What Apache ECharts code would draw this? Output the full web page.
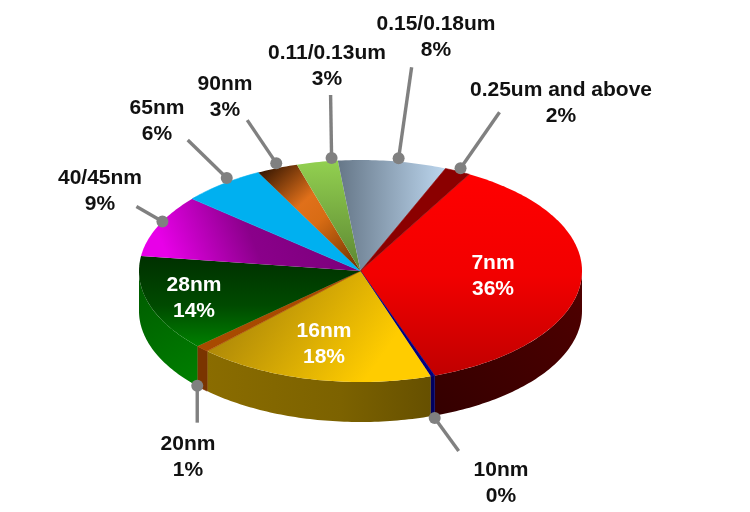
<!DOCTYPE html>
<html>
<head>
<meta charset="utf-8">
<style>html,body{margin:0;padding:0;background:#fff}#c{width:750px;height:512px}</style>
<script src="https://cdn.jsdelivr.net/npm/echarts@6/dist/echarts.min.js"></script>
</head>
<body>
<div id="c"></div>
<script>
// ---- data ----
const categories = ['7nm','10nm','16nm','20nm','28nm','40/45nm','65nm','90nm','0.11/0.13um','0.15/0.18um','0.25um and above'];
const shares     = [36.4, 0.3, 17.3, 1.0, 14.0, 9.1, 6.1, 3.0, 3.0, 7.9, 1.9];
const percentLabels = ['36%','0%','18%','1%','14%','9%','6%','3%','3%','8%','2%'];

// ---- styles ----
function lin(x,y,x2,y2,stops){
  return {type:'linear',x:x,y:y,x2:x2,y2:y2,colorStops:stops.map((c,i)=>({offset:c[0],color:c[1]}))};
}
const topFills = [
  lin(0,0,0,1,[[0,'#ff0000'],[0.5,'#f20000'],[1,'#c00000']]),
  '#000080',
  lin(0,0,0.7,1,[[0,'#a68006'],[0.25,'#b08a08'],[1,'#ffcc00']]),
  '#a84a00',
  lin(0,0,0,1,[[0,'#003000'],[0.55,'#004a00'],[1,'#008000']]),
  lin(0.9,0,0.1,1,[[0,'#7a007a'],[0.5,'#8a008a'],[0.95,'#e800e8'],[1,'#e800e8']]),
  '#00b0f0',
  lin(0.05,0,1,1,[[0,'#2e1200'],[0.38,'#e0701a'],[0.55,'#d86c14'],[1,'#6a3000']]),
  lin(0,0,0,1,[[0,'#92d050'],[1,'#5c8632']]),
  lin(0,0,1,0,[[0,'#667788'],[1,'#bcd6ee']]),
  '#8b0000'
];
const wallFills = [
  lin(1,0,0,1,[[0,'#500000'],[1,'#340000']]),
  '#000060',
  lin(0,0,1,0,[[0,'#8a6c00'],[0.6,'#7c6200'],[1,'#665000']]),
  '#7a3400',
  lin(0,0,1,1,[[0,'#005800'],[1,'#008000']]),
  '#444','#444','#444','#444','#444','#444'
];
const labelColors = ['#fff','#111','#fff','#111','#fff','#111','#111','#111','#111','#111','#111'];
const leaderColor = '#808080';

// ---- layout of the tilted pie ----
const pie = {cx:360.5, cy:271, rx:221.5, ry:111, depth:40, startDeg:29.4};
const labelFont = 'bold 21px "Liberation Sans", Arial, sans-serif';
const labelLine = 26.5;
const labelCentres = [[493,276],[501,483],[324,344],[188,457],[194,298],[100,191],[157,121],[225,97],[327,66],[436,37],[561,103]];
// [position within slice, on lower rim?, nudge x, y, leader vector x, y]
const leaders = [
  null,
  [0.5,1,2,2,24,33],
  null,
  [0.5,1,-5,-3,0,37],
  null,
  [0.5,0,4,-4,-26,-15],
  [0.5,0,4,-6,-39,-38],
  [0.5,0,-1,-5,-29,-43],
  [0.85,0,0,-3,-1,-63],
  [0.5,0,6,-3,13,-91],
  [0.5,0,3,-3,39,-56]
];

const total = shares.reduce((a,b)=>a+b,0);
const bounds = [0];
shares.forEach(v=>bounds.push(bounds[bounds.length-1]+v));
const toDeg = v => echarts.number.linearMap(v,[0,total],[pie.startDeg,pie.startDeg+360]);
function rim(deg,drop){
  const t=deg*Math.PI/180;
  return [pie.cx+pie.rx*Math.sin(t), pie.cy-pie.ry*Math.cos(t)+(drop||0)];
}
function arcPoints(a,b,drop){
  const n=Math.max(2,Math.ceil(Math.abs(b-a)));
  const out=[];
  for(let k=0;k<=n;k++) out.push(rim(a+(b-a)*k/n,drop));
  return out;
}
const rows = shares.map((v,i)=>({value:[v],name:categories[i]}));

function renderTop(params){
  const i=params.dataIndex;
  const a=toDeg(bounds[i]), b=toDeg(bounds[i+1]);
  return {type:'polygon',shape:{points:[[pie.cx,pie.cy]].concat(arcPoints(a,b,0))},
          style:{fill:topFills[i],stroke:typeof topFills[i]==='string'?topFills[i]:null,lineWidth:typeof topFills[i]==='string'?0.6:0}};
}
function renderWall(params){
  const i=params.dataIndex;
  let a=toDeg(bounds[i]), b=toDeg(bounds[i+1]);
  if(b<=90||a>=270) return null;
  a=Math.max(a,90); b=Math.min(b,270);
  const pts=arcPoints(a,b,0).concat(arcPoints(b,a,pie.depth));
  return {type:'polygon',shape:{points:pts},style:{fill:wallFills[i],stroke:typeof wallFills[i]==='string'?wallFills[i]:null,lineWidth:typeof wallFills[i]==='string'?0.6:0}};
}
function renderLeader(params){
  const i=params.dataIndex, L=leaders[i];
  if(!L) return null;
  const a=toDeg(bounds[i]), b=toDeg(bounds[i+1]);
  const p=rim(a+(b-a)*L[0],L[1]?pie.depth:0);
  const x=p[0]+L[2], y=p[1]+L[3];
  return {type:'group',children:[
    {type:'line',shape:{x1:x,y1:y,x2:x+L[4],y2:y+L[5]},style:{stroke:leaderColor,lineWidth:3.4}},
    {type:'circle',shape:{cx:x,cy:y,r:6},style:{fill:leaderColor}}
  ]};
}
function renderLabel(params){
  const i=params.dataIndex, c=labelCentres[i];
  const mk=(t,y)=>({type:'text',style:{x:c[0],y:y,text:t,font:labelFont,fill:labelColors[i],align:'center',verticalAlign:'middle'}});
  return {type:'group',children:[mk(categories[i],c[1]-labelLine/2),mk(percentLabels[i],c[1]+labelLine/2)]};
}
const chart=echarts.init(document.getElementById('c'),null,{renderer:'canvas'});
const mkSeries=(fn,z)=>({type:'custom',coordinateSystem:'none',renderItem:fn,data:rows,z:z,silent:true,animation:false,clip:false});
chart.setOption({
  animation:false,
  backgroundColor:'#ffffff',
  series:[mkSeries(renderWall,1),mkSeries(renderTop,2),mkSeries(renderLeader,3),mkSeries(renderLabel,4)]
});
</script>
</body>
</html>
